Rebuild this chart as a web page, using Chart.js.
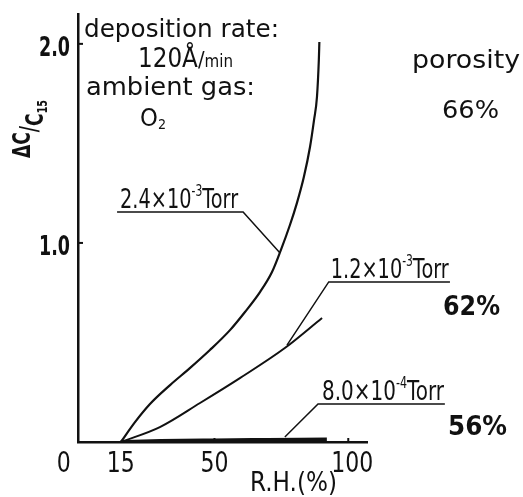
<!DOCTYPE html>
<html>
<head>
<meta charset="utf-8">
<title>ΔC/C15 vs R.H.</title>
<script src="https://cdn.jsdelivr.net/npm/chart.js@4.4.1/dist/chart.umd.min.js"></script>
<style>
    html, body { margin: 0; padding: 0; background: #fff; }
    #chart { display: block; }
</style>
</head>
<body>
<canvas id="chart" width="523" height="497"></canvas>
<script>
// Values (x: R.H. in %, y: ΔC/C15)
const rh24 = [15, 20.3, 25.9, 33.4, 40.8, 48.3, 55.8, 61.4, 67.0, 71.5, 74.8, 78.2, 80.8, 83.4, 85.7, 87.2, 88.3, 89.0, 89.2];
const dc24 = [0, 0.100, 0.191, 0.286, 0.371, 0.462, 0.562, 0.653, 0.753, 0.854, 0.964, 1.090, 1.200, 1.331, 1.482, 1.617, 1.733, 1.919, 2.009];

const rh12 = [15, 29.6, 44.6, 59.5, 76.3, 90.2];
const dc12 = [0, 0.075, 0.196, 0.321, 0.472, 0.623];

const rh08 = [15, 30, 50, 70, 92];
const dc08 = [0, 0.005, 0.008, 0.010, 0.012];

// Leader lines for the pressure labels (underline start, corner, point on curve)
const lead24x = [13.6, 60.7, 74.5];
const lead24y = [1.155, 1.155, 0.949];
const lead12x = [138.0, 92.7, 77.1];
const lead12y = [0.804, 0.804, 0.487];
const lead08x = [136.1, 88.7, 76.3];
const lead08y = [0.191, 0.191, 0.025];

// Axis ticks
const xTickValues = [0, 15, 50, 100];
const xTickLabels = ['0', '15', '50', '100'];
const xTickMarks = [50, 100];
const yTickValues = [1, 2];
const yTickLabels = ['1.0', '2.0'];

const FONT = '"DejaVu Sans", sans-serif';
const INK = '#111';

function toPoints(xs, ys) {
    return xs.map((x, i) => ({ x: x, y: ys[i] }));
}

// Draws a row of text pieces [text, size, dy, weight], squeezed to a given width
function drawRuns(ctx, parts, x, y, width, opts = {}) {
    ctx.save();
    const widths = parts.map(p => {
        ctx.font = `${p[3] || 'normal'} ${p[1]}px ${FONT}`;
        return ctx.measureText(p[0]).width;
    });
    const total = widths.reduce((a, b) => a + b, 0);
    const sx = width ? width / total : 1;
    ctx.translate(x, y);
    if (opts.rotate) ctx.rotate(opts.rotate);
    ctx.scale(sx, 1);
    let cx = 0;
    if (opts.align === 'center') cx = -total / 2;
    if (opts.align === 'right') cx = -total;
    ctx.fillStyle = INK;
    ctx.textBaseline = 'alphabetic';
    ctx.textAlign = 'left';
    parts.forEach((p, i) => {
        ctx.font = `${p[3] || 'normal'} ${p[1]}px ${FONT}`;
        ctx.fillText(p[0], cx, p[2] || 0);
        cx += widths[i];
    });
    ctx.restore();
}

const lettering = {
    id: 'lettering',
    afterDraw(chart) {
        const ctx = chart.ctx;
        const xs = chart.scales.x;
        const ys = chart.scales.y;
        const area = chart.chartArea;

        // Small inward tick marks
        ctx.save();
        ctx.strokeStyle = INK;
        ctx.lineWidth = 2;
        xTickMarks.forEach(v => {
            const px = xs.getPixelForValue(v);
            ctx.beginPath();
            ctx.moveTo(px, area.bottom);
            ctx.lineTo(px, area.bottom - 4);
            ctx.stroke();
        });
        yTickValues.forEach(v => {
            const py = ys.getPixelForValue(v);
            ctx.beginPath();
            ctx.moveTo(area.left, py);
            ctx.lineTo(area.left + 5, py);
            ctx.stroke();
        });
        ctx.restore();

        // Tick labels
        xTickValues.forEach((v, i) => {
            let px = xs.getPixelForValue(v);
            if (v === 0) px -= 17;
            if (v === 100) px += 4;
            const lab = xTickLabels[i];
            drawRuns(ctx, [[lab, 28]], px, area.bottom + 30, lab.length * 14, { align: 'center' });
        });
        yTickValues.forEach((v, i) => {
            const py = ys.getPixelForValue(v);
            drawRuns(ctx, [[yTickLabels[i], 26, 0, 'bold']], area.left - 8, py + 12, 31, { align: 'right' });
        });

        // Axis titles
        drawRuns(ctx, [['R.H.(%)', 26]], 250, 491, 87);
        drawRuns(ctx, [['Δ', 25, -6, 'bold'], ['C', 25, -6, 'bold'], ['/', 25, 1, 'bold'], ['C', 25, 7, 'bold'], ['15', 14, 11, 'bold']],
            36, 158, 58, { rotate: -Math.PI / 2 });

        // Conditions
        drawRuns(ctx, [['deposition rate:', 25]], 84, 37, 195);
        drawRuns(ctx, [['120Å', 26], ['/', 22], ['min', 17]], 138, 67, 95);
        drawRuns(ctx, [['ambient gas:', 25]], 86, 95, 169);
        drawRuns(ctx, [['O', 25], ['2', 14, 3]], 140, 126, 26);

        // Pressure labels sit on top of their underlines
        const lx = v => xs.getPixelForValue(v);
        const ly = v => ys.getPixelForValue(v);
        drawRuns(ctx, [['2.4×10', 27], ['-3', 15, -12], ['Torr', 27]], lx(lead24x[0]) + 3, ly(lead24y[0]) - 4, 118);
        drawRuns(ctx, [['1.2×10', 27], ['-3', 15, -12], ['Torr', 27]], lx(lead12x[1]) + 2, ly(lead12y[1]) - 4, 118);
        drawRuns(ctx, [['8.0×10', 27], ['-4', 15, -12], ['Torr', 27]], lx(lead08x[1]) + 4, ly(lead08y[1]) - 4, 122);

        // Porosity
        drawRuns(ctx, [['porosity', 25]], 412, 68, 108);
        drawRuns(ctx, [['66%', 25]], 442, 118, 57);
        drawRuns(ctx, [['62%', 26, 0, 'bold']], 443, 315, 57);
        drawRuns(ctx, [['56%', 26, 0, 'bold']], 448, 435, 59);
    }
};

const curveStyle = {
    showLine: true,
    pointRadius: 0,
    borderColor: INK,
    backgroundColor: INK,
    fill: false,
    cubicInterpolationMode: 'monotone'
};

const leaderStyle = {
    showLine: true,
    pointRadius: 0,
    borderColor: INK,
    borderWidth: 1.5,
    fill: false,
    tension: 0,
    clip: false
};

new Chart(document.getElementById('chart'), {
    type: 'scatter',
    data: {
        datasets: [
            { ...curveStyle, label: '2.4×10-3 Torr', data: toPoints(rh24, dc24), borderWidth: 2.2 },
            { ...curveStyle, label: '1.2×10-3 Torr', data: toPoints(rh12, dc12), borderWidth: 2 },
            { ...curveStyle, label: '8.0×10-4 Torr', data: toPoints(rh08, dc08), borderWidth: 4 },
            { ...leaderStyle, label: 'lead24', data: toPoints(lead24x, lead24y) },
            { ...leaderStyle, label: 'lead12', data: toPoints(lead12x, lead12y) },
            { ...leaderStyle, label: 'lead08', data: toPoints(lead08x, lead08y) }
        ]
    },
    options: {
        responsive: false,
        animation: false,
        layout: { padding: { top: 14, right: 156, left: 0, bottom: 0 } },
        plugins: {
            legend: { display: false },
            tooltip: { enabled: false }
        },
        scales: {
            x: {
                type: 'linear',
                min: -1,
                max: 107,
                grid: { display: false, drawTicks: false },
                border: { display: true, color: INK, width: 2.5 },
                ticks: { display: false },
                afterFit: s => { s.height = 55; }
            },
            y: {
                type: 'linear',
                min: 0,
                max: 2.15,
                grid: { display: false, drawTicks: false },
                border: { display: true, color: INK, width: 2.5 },
                ticks: { display: false },
                afterFit: s => { s.width = 78; }
            }
        }
    },
    plugins: [lettering]
});
</script>
</body>
</html>
